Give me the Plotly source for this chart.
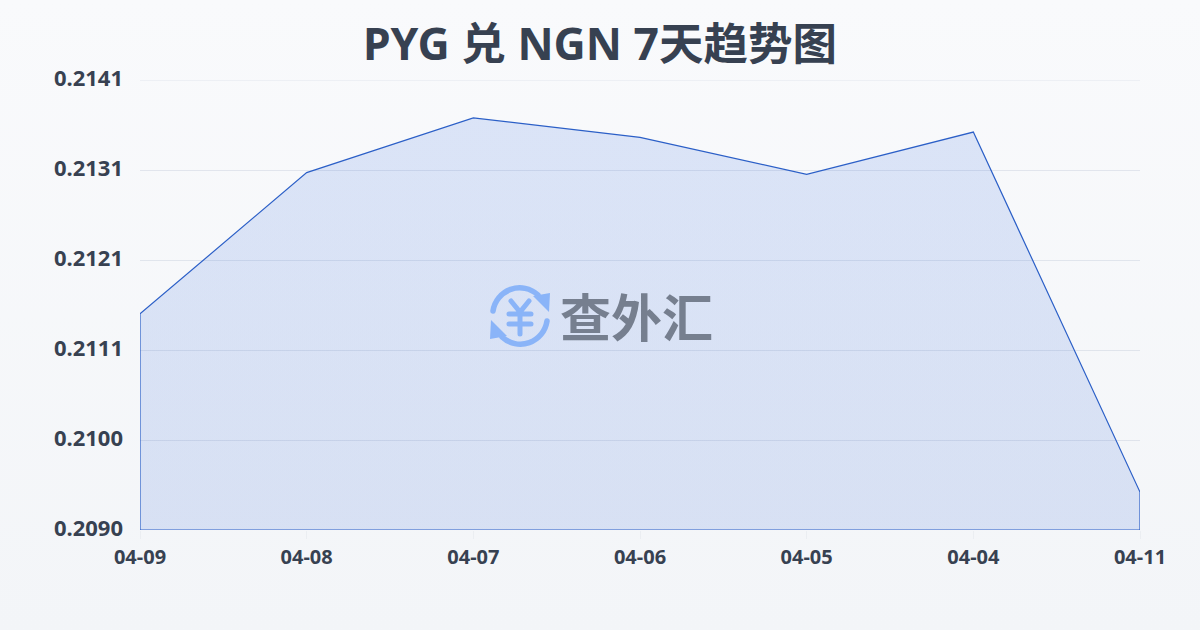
import base64
import plotly.graph_objects as go

dates = ["04-09", "04-08", "04-07", "04-06", "04-05", "04-04", "04-11"]
rates = [0.21145, 0.21305, 0.21367, 0.21345, 0.21303, 0.21351, 0.20943]
tick_vals = [0.2090, 0.21002, 0.21104, 0.21206, 0.21308, 0.2141]
tick_text = ["0.2090", "0.2100", "0.2111", "0.2121", "0.2131", "0.2141"]
y_min, y_max = 0.2090, 0.2141
title = "PYG 兑 NGN 7天趋势图"
watermark = "查外汇"


def svg_uri(svg):
    return "data:image/svg+xml;base64," + base64.b64encode(svg.encode()).decode()


bg_svg = ('<svg xmlns="http://www.w3.org/2000/svg" width="1200" height="630" preserveAspectRatio="none">'
          '<defs><linearGradient id="g" x1="0" y1="0" x2="0" y2="1">'
          '<stop offset="0" stop-color="#f9fafc"/><stop offset="1" stop-color="#f3f5f8"/>'
          '</linearGradient></defs><rect width="1200" height="630" fill="url(#g)"/></svg>')

icon_svg = ('<svg xmlns="http://www.w3.org/2000/svg" width="64" height="64" viewBox="0 0 64 64">'
            '<g fill="none" stroke="#8ab4f8" stroke-width="5.5" stroke-linecap="round">'
            '<path d="M5 27 A27 27 0 0 1 50 11"/>'
            '<path d="M59 37 A27 27 0 0 1 14 53"/>'
            '<path d="M23 17 L32 28 L41 17 M21 30 H43 M21 40 H43 M32 28 V50" stroke-width="5"/>'
            '</g>'
            '<path d="M45 12 L62 9 L61 28 Z" fill="#8ab4f8"/>'
            '<path d="M19 52 L2 55 L3 36 Z" fill="#8ab4f8"/>'
            '</svg>')

fig = go.Figure()
fig.add_trace(go.Scatter(
    x=dates + [dates[-1], dates[0], dates[0]],
    y=rates + [y_min, y_min, rates[0]],
    mode="lines",
    line=dict(color="#2b5fc7", width=1.2),
    fill="toself",
    fillgradient=dict(type="vertical",
                      colorscale=[[0, "rgba(33,88,210,0.135)"], [1, "rgba(33,92,220,0.135)"]]),
    hoverinfo="skip",
    cliponaxis=False,
    showlegend=False,
))

fig.update_layout(
    width=1200, height=630,
    autosize=False,
    margin=dict(l=140, r=60, t=80, b=100),
    paper_bgcolor="#f6f7fa",
    plot_bgcolor="rgba(0,0,0,0)",
    showlegend=False,
    font=dict(family="Noto Sans CJK SC, sans-serif", color="#374151"),
    title=dict(text=f"<b>{title}</b>", x=0.5, xanchor="center", y=0.929, yanchor="middle",
               font=dict(size=44.5, color="#374151",
                         family="Noto Sans, Noto Sans CJK SC, sans-serif")),
    xaxis=dict(type="category", categoryorder="array", categoryarray=dates,
               range=[0, 6], showgrid=False, zeroline=False, showline=False,
               ticks="outside", ticklen=8, tickwidth=1, tickcolor="rgba(170,180,200,0.12)",
               ticklabelstandoff=1,
               tickfont=dict(size=20, family="Noto Sans", weight="bold", color="#374151")),
    yaxis=dict(range=[y_min, y_max], tickmode="array", tickvals=tick_vals, ticktext=tick_text,
               showgrid=True, gridcolor="rgba(170,180,200,0.28)", gridwidth=1,
               zeroline=False, showline=False, ticks="", ticklabelstandoff=16, ticklabelshift=-2,
               tickfont=dict(size=22, family="Noto Sans", weight="bold", color="#374151")),
    shapes=[dict(type="line", xref="paper", x0=0, x1=1, yref="y", y0=y_max, y1=y_max,
                 line=dict(color="rgba(170,180,200,0.28)", width=1), layer="below")],
    images=[
        dict(source=svg_uri(bg_svg), xref="paper", yref="paper", x=-140 / 1000, y=530 / 450,
             sizex=1200 / 1000, sizey=630 / 450, xanchor="left", yanchor="top",
             sizing="stretch", layer="below"),
        dict(source=svg_uri(icon_svg), xref="paper", yref="paper",
             x=(488 - 140) / 1000, y=(530 - 284) / 450,
             sizex=64 / 1000, sizey=64 / 450, xanchor="left", yanchor="top",
             sizing="stretch", layer="above"),
    ],
    annotations=[dict(text=f"<b>{watermark}</b>", xref="paper", yref="paper",
                      x=(636 - 140) / 1000, y=(530 - 315) / 450, xanchor="center", yanchor="middle",
                      showarrow=False,
                      font=dict(size=51, color="#767f8f", family="Noto Sans CJK SC"))],
)

fig.write_html("out.html", config=dict(displayModeBar=False),
               post_script="document.body.style.margin='0';document.body.style.overflow='hidden';")
